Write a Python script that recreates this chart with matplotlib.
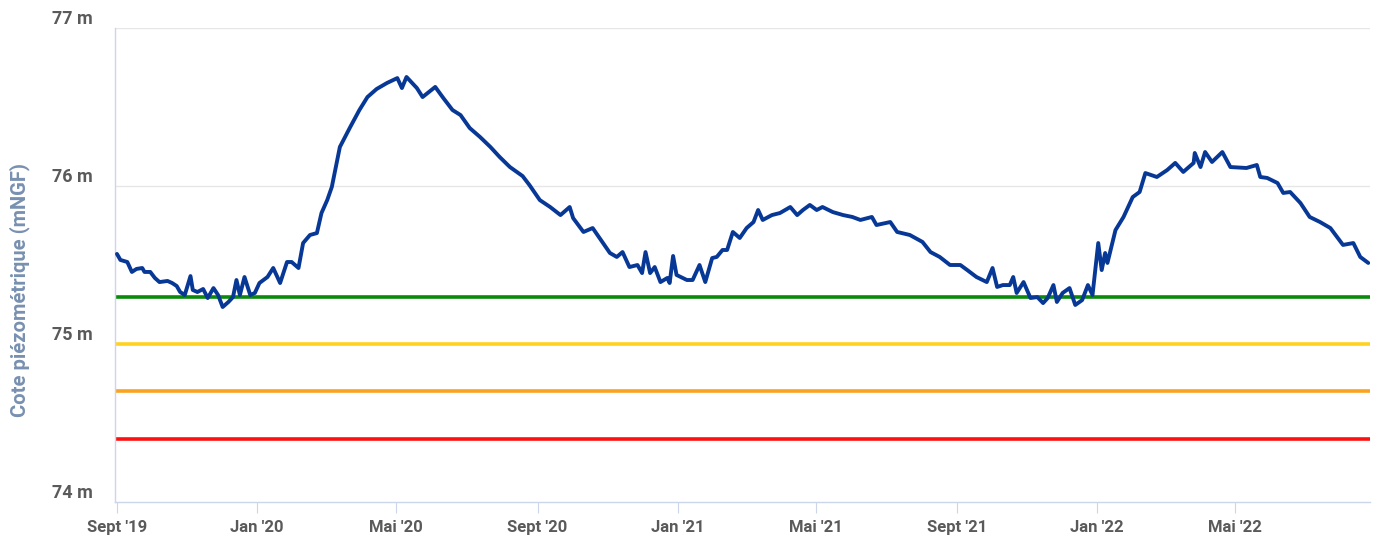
import matplotlib
matplotlib.use("Agg")
import matplotlib.pyplot as plt
from matplotlib.transforms import ScaledTranslation
import pandas as pd

# ---- data ----
start_date = "2019-09-01"
day_offset = [0, 3, 9, 13, 17, 22, 24, 29, 33, 37, 44, 48, 52, 55, 59, 64, 66, 70, 75, 79,
              84, 88, 92, 97, 101, 104, 107, 111, 116, 120, 124, 131, 136, 142, 148, 152, 158, 162, 168, 174,
              178, 183, 187, 194, 203, 211, 218, 226, 235, 244, 248, 252, 261, 266, 277, 284, 292, 299, 307, 316,
              325, 333, 342, 353, 359, 368, 377, 386, 394, 397, 406, 414, 420, 429, 435, 440, 446, 453, 457, 460,
              464, 468, 473, 479, 481, 484, 487, 496, 501, 507, 512, 518, 522, 527, 531, 536, 542, 548, 554, 558,
              562, 570, 577, 586, 592, 597, 603, 609, 614, 623, 632, 640, 647, 657, 661, 673, 679, 690, 701, 708,
              716, 725, 734, 740, 748, 757, 762, 766, 771, 777, 780, 783, 789, 795, 801, 806, 810, 815, 818, 823,
              829, 834, 840, 845, 849, 854, 857, 860, 862, 869, 876, 884, 890, 895, 905, 914, 921, 928, 937, 938,
              943, 947, 953, 962, 969, 983, 992, 995, 1001, 1010, 1015, 1021, 1030, 1038, 1047, 1056, 1067, 1076, 1082, 1089]
niveau = [75.570, 75.532, 75.519, 75.456, 75.475, 75.481, 75.456, 75.456, 75.418, 75.392,
          75.399, 75.386, 75.367, 75.329, 75.310, 75.430, 75.342, 75.329, 75.348, 75.291,
          75.354, 75.310, 75.234, 75.266, 75.297, 75.405, 75.310, 75.424, 75.310, 75.323,
          75.386, 75.424, 75.481, 75.386, 75.519, 75.519, 75.481, 75.639, 75.690, 75.702,
          75.829, 75.911, 75.994, 76.247, 76.373, 76.481, 76.563, 76.614, 76.652, 76.683,
          76.620, 76.690, 76.620, 76.563, 76.627, 76.557, 76.481, 76.449, 76.367, 76.310,
          76.247, 76.184, 76.120, 76.063, 76.006, 75.911, 75.867, 75.816, 75.867, 75.797,
          75.709, 75.734, 75.671, 75.576, 75.551, 75.582, 75.487, 75.500, 75.449, 75.582,
          75.449, 75.487, 75.392, 75.418, 75.386, 75.557, 75.437, 75.405, 75.405, 75.500,
          75.392, 75.544, 75.551, 75.595, 75.595, 75.709, 75.671, 75.734, 75.772, 75.848,
          75.785, 75.816, 75.829, 75.867, 75.816, 75.848, 75.880, 75.848, 75.867, 75.835,
          75.816, 75.804, 75.785, 75.804, 75.753, 75.772, 75.709, 75.690, 75.646, 75.582,
          75.551, 75.500, 75.500, 75.468, 75.424, 75.392, 75.481, 75.361, 75.373, 75.373,
          75.424, 75.323, 75.392, 75.291, 75.297, 75.259, 75.291, 75.373, 75.266, 75.323,
          75.354, 75.247, 75.278, 75.373, 75.310, 75.639, 75.468, 75.576, 75.513, 75.721,
          75.804, 75.930, 75.962, 76.082, 76.057, 76.101, 76.146, 76.089, 76.146, 76.209,
          76.120, 76.215, 76.152, 76.215, 76.120, 76.114, 76.133, 76.057, 76.051, 76.019,
          75.956, 75.962, 75.892, 75.804, 75.772, 75.734, 75.627, 75.639, 75.551, 75.513]

seuils = [75.30, 75.00, 74.70, 74.40]
seuil_colors = ["#0a8a0a", "#ffd21f", "#f9a31e", "#ff1010"]

tick_dates = ["2019-09-01", "2020-01-01", "2020-05-01", "2020-09-01", "2021-01-01",
              "2021-05-01", "2021-09-01", "2022-01-01", "2022-05-01"]
tick_labels = ["Sept '19", "Jan '20", "Mai '20", "Sept '20", "Jan '21",
               "Mai '21", "Sept '21", "Jan '22", "Mai '22"]
y_ticks = [74, 75, 76, 77]
y_tick_labels = ["74 m", "75 m", "76 m", "77 m"]

# ---- figure ----
FONT = ["Roboto", "DejaVu Sans"]
plt.rcParams['font.family'] = FONT

W, H = 1378, 537
fig = plt.figure(figsize=(W / 100, H / 100), dpi=100)
ax = fig.add_axes([115 / W, 35 / H, (1370 - 115) / W, (502 - 28) / H])

t0 = pd.Timestamp(start_date)
dates = t0 + pd.to_timedelta(day_offset, unit="D")

for s, c in zip(seuils, seuil_colors):
    ax.axhline(s, color=c, lw=2.6, zorder=2)

ax.plot(dates, niveau, color="#083896", lw=2.8, zorder=3,
        solid_joinstyle="round", solid_capstyle="round")

ax.set_xlim(t0 - pd.Timedelta(days=1.7), t0 + pd.Timedelta(days=1090.5))
ax.set_ylim(74, 77)

# grid
for yv in [76, 77]:
    ax.axhline(yv, color="#e6e6e6", lw=1, zorder=1)

for sp in ["top", "right"]:
    ax.spines[sp].set_visible(False)
ax.spines["left"].set_color("#ccd6eb")
ax.spines["bottom"].set_color("#ccd6eb")
ax.spines["left"].set_linewidth(1)
ax.spines["bottom"].set_linewidth(1)

ax.set_xticks(pd.to_datetime(tick_dates))
ax.set_xticklabels(tick_labels, fontsize=12, fontweight="bold", color="#5a5a5a")
ax.tick_params(axis="x", length=8, color="#ccd6eb", pad=5)

ax.set_yticks(y_ticks)
ax.set_yticklabels([])
ax.tick_params(axis="y", length=0)
off = ScaledTranslation(-22 / 100, 9 / 100, fig.dpi_scale_trans)
for yv, lab in zip(y_ticks, y_tick_labels):
    ax.text(0, yv, lab, transform=ax.get_yaxis_transform() + off, ha="right", va="center",
            fontsize=13, fontweight="bold", color="#5a5a5a")

fig.text(20 / W, 1 - 290 / H, "Cote piézométrique (mNGF)", rotation=90, ha="center", va="center",
         fontsize=14.5, fontweight="bold", color="#7890b0")

fig.savefig("out.png", dpi=100)
